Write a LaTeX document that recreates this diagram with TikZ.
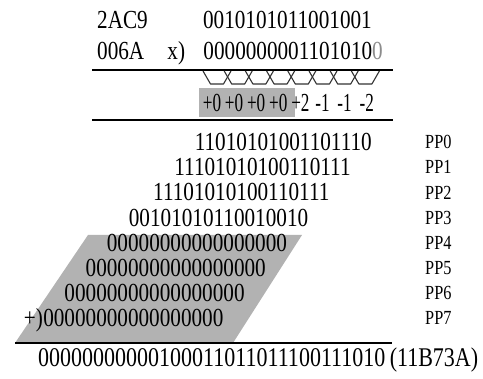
\documentclass[tikz,border=0pt]{standalone}
\usepackage{fontspec}
\setmainfont{Liberation Serif}
\newfontfamily\bitfont[FakeStretch=0.815]{Liberation Serif}
\newfontfamily\signfont[FakeStretch=0.66]{Liberation Serif}
\usetikzlibrary{positioning}
\tikzset{
    %Define style for bit strings
    bits/.style={
           font=\bitfont\fontsize{26}{26}\selectfont,
           inner sep=0pt},
    resbits/.style={
           font=\bitfont\fontsize{27}{27}\selectfont,
           inner sep=0pt},
    signed/.style={
           font=\signfont\fontsize{26}{26}\selectfont,
           inner sep=0pt},
    pplabel/.style={
           font=\bitfont\fontsize{20}{20}\selectfont,
           inner sep=0pt,
           anchor=west},
    % Define rule and booth group styles
    rule/.style={
           line width=2.4pt},
    group/.style={
           draw=black!80,
           line width=1.1pt,
           line join=round},
    shade/.style={
           fill=black!30}
}

\begin{document}
\begin{tikzpicture}[x=1pt,y=-1pt]
\useasboundingbox (0,0) rectangle (483,379);

 %shaded areas
\fill[shade] (199,88) rectangle (295,117);
\fill[shade] (88,235) -- (302,235) -- (233,343) -- (15,343) -- cycle;

 %operands
\node[bits, anchor=west](hx1) at (97,20){2AC9};
\node[bits, anchor=west](hx2) at (97,51){006A};
\node[bits, anchor=east](mcand) at (372,20){0010101011001001};
\node[bits, anchor=east](mplier) at (383,51){0000000001101010\textcolor{black!45}{0}};
\node[bits, anchor=base east](times) at ([xshift=-18pt]mplier.base west){x)};

 %rules
\coordinate (r1a) at (92,70);  \coordinate (r1b) at (393,70);
\coordinate (r2a) at (92,120); \coordinate (r2b) at (393,120);
\coordinate (r3a) at (15,343); \coordinate (r3b) at (392,343);
\draw[rule] (r1a) -- (r1b);
\draw[rule] (r2a) -- (r2b);
\draw[rule] (r3a) -- (r3b);

 %booth groups
\foreach \i in {0,...,7}
    \draw[group] ({203+21.2*\i},71) -- ++(7.5,13) -- ++(13,0) -- ++(7.5,-13);
\foreach \d [count=\i from 0] in {+0,+0,+0,+0,+2,-1,-1,-2}
    \node[signed](b\i) at ({212+22.1*\i},103){\d};

 %partial products
\foreach \p [count=\i from 0] in {11010101001101110,11101010100110111,11101010100110111,00101010110010010,
    00000000000000000,00000000000000000,00000000000000000,00000000000000000}{
    \node[bits, anchor=east](pp\i) at ({372-21.2*\i},{142+25.2*\i}){\p};
    \node[pplabel](lab\i) at (425,{142+25.2*\i}){PP\i};
}
\node[bits, anchor=base east](plus) at (pp7.base west){+)};

 %result
\node[resbits, anchor=west](res) at (38,358){00000000000100011011011100111010};
\node[resbits, anchor=base west](reshex) at ([xshift=4pt]res.base east){(11B73A)};

\end{tikzpicture}
\end{document}
